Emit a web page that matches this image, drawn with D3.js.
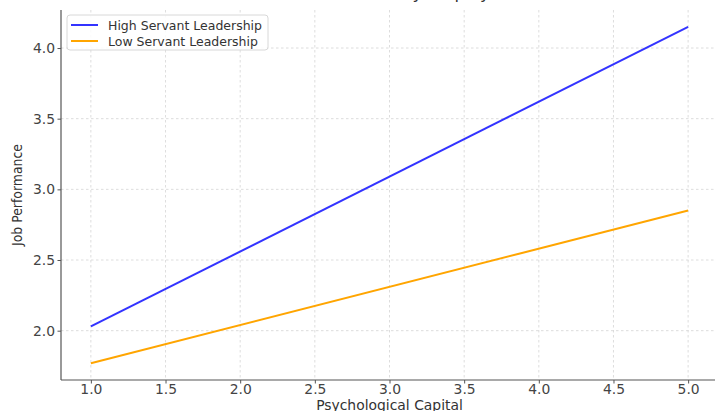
<!DOCTYPE html>
<html>
<head>
<meta charset="utf-8">
<script src="https://cdn.jsdelivr.net/npm/d3@7"></script>
<style>
  html, body { margin: 0; padding: 0; background: #fff; }
  svg { display: block; }
  text { font-family: "DejaVu Sans", sans-serif; }
</style>
</head>
<body>
<svg id="chart" width="715" height="411"></svg>
<script>
// ---- data ----
const psychCapital = [1.0, 5.0];
const highServant = [2.03, 4.15];
const lowServant = [1.77, 2.85];
const seriesNames = ["High Servant Leadership", "Low Servant Leadership"];
const seriesColors = ["#3333ff", "#ffa500"];
const xTicks = [1.0, 1.5, 2.0, 2.5, 3.0, 3.5, 4.0, 4.5, 5.0];
const yTicks = [2.0, 2.5, 3.0, 3.5, 4.0];
const titleText = "Interaction Effect Moderated by Employee Performance";
const xLabel = "Psychological Capital";
const yLabel = "Job Performance";

const svg = d3.select("#chart");
const margin = { left: 61, right: -3, top: 10, bottom: 31 };
const W = 715, H = 411;

// matplotlib-like 5% margins
const xExt = d3.extent(psychCapital);
const xPad = (xExt[1] - xExt[0]) * 0.05;
const allY = highServant.concat(lowServant);
const yExt = d3.extent(allY);
const yPad = (yExt[1] - yExt[0]) * 0.05;

const x = d3.scaleLinear().domain([xExt[0] - xPad, xExt[1] + xPad]).range([margin.left, W - margin.right]);
const y = d3.scaleLinear().domain([yExt[0] - yPad, yExt[1] + yPad]).range([H - margin.bottom, margin.top]);

// grid
const grid = svg.append("g");
grid.selectAll(".vg").data(xTicks).join("line")
  .attr("x1", d => x(d)).attr("x2", d => x(d))
  .attr("y1", y.range()[1]).attr("y2", y.range()[0])
  .attr("stroke", "#d4d4d4").attr("stroke-width", 0.8).attr("stroke-dasharray", "2.5,2.5");
grid.selectAll(".hg").data(yTicks).join("line")
  .attr("x1", x.range()[0]).attr("x2", x.range()[1])
  .attr("y1", d => y(d)).attr("y2", d => y(d))
  .attr("stroke", "#d4d4d4").attr("stroke-width", 0.8).attr("stroke-dasharray", "2.5,2.5");

// lines
const line = d3.line().x(d => x(d[0])).y(d => y(d[1]));
[highServant, lowServant].forEach((vals, i) => {
  svg.append("path")
    .datum(psychCapital.map((c, j) => [c, vals[j]]))
    .attr("d", line)
    .attr("fill", "none")
    .attr("stroke", seriesColors[i])
    .attr("stroke-width", 2);
});

// axes
const xAxis = d3.axisBottom(x).tickValues(xTicks).tickFormat(d3.format(".1f")).tickSize(3.5).tickPadding(1);
const yAxis = d3.axisLeft(y).tickValues(yTicks).tickFormat(d3.format(".1f")).tickSize(3.5).tickPadding(2.5);

const gx = svg.append("g").attr("transform", `translate(0,${H - margin.bottom})`).call(xAxis);
const gy = svg.append("g").attr("transform", `translate(${margin.left},0)`).call(yAxis);
[gx, gy].forEach(g => {
  g.select(".domain").attr("stroke", "#555").attr("stroke-width", 1.2);
  g.selectAll(".tick line").attr("stroke", "#555").attr("stroke-width", 1);
  g.selectAll(".tick text").attr("fill", "#444").attr("font-size", "13.9px")
    .attr("font-family", "DejaVu Sans, sans-serif");
});
gx.select(".domain").attr("d", `M${x.range()[0]},0H${x.range()[1]}`);
gy.select(".domain").attr("d", `M0,${y.range()[0]}V${y.range()[1]}`);

// axis labels
svg.append("text")
  .attr("x", (x.range()[0] + x.range()[1]) / 2)
  .attr("y", 410)
  .attr("text-anchor", "middle")
  .attr("font-size", "13.9px")
  .attr("fill", "#333")
  .text(xLabel);

svg.append("text")
  .attr("transform", `translate(22,${(y.range()[0] + y.range()[1]) / 2}) rotate(-90)`)
  .attr("text-anchor", "middle")
  .attr("font-size", "13.9px")
  .attr("fill", "#333")
  .attr("textLength", 102)
  .attr("lengthAdjust", "spacingAndGlyphs")
  .text(yLabel);

// title (mostly cropped at top, like the reference)
svg.append("text")
  .attr("x", (x.range()[0] + x.range()[1]) / 2)
  .attr("y", -1)
  .attr("text-anchor", "middle")
  .attr("font-size", "16.7px")
  .attr("fill", "#333")
  .text(titleText);

// legend
const lg = svg.append("g").attr("transform", "translate(67,15)");
lg.append("rect")
  .attr("x", 0).attr("y", 0).attr("width", 201).attr("height", 35)
  .attr("rx", 3).attr("ry", 3)
  .attr("fill", "#fff").attr("fill-opacity", 0.85)
  .attr("stroke", "#d8d8d8").attr("stroke-width", 1);
seriesNames.forEach((name, i) => {
  const yy = 10 + i * 16;
  lg.append("line")
    .attr("x1", 4).attr("x2", 31).attr("y1", yy).attr("y2", yy)
    .attr("stroke", seriesColors[i]).attr("stroke-width", 2);
  lg.append("text")
    .attr("x", 41).attr("y", yy + 4.5)
    .attr("font-size", "12.5px")
    .attr("fill", "#333")
    .text(name);
});
</script>
</body>
</html>
